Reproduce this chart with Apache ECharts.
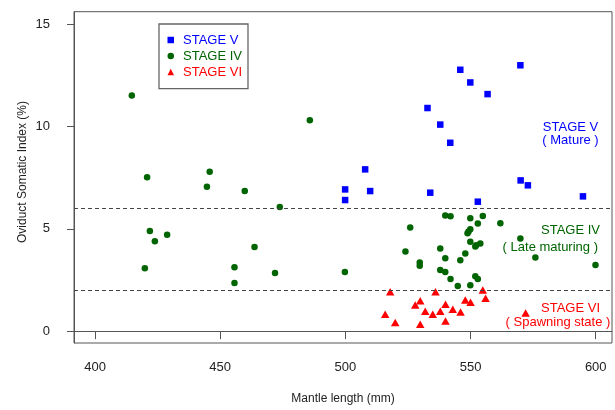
<!DOCTYPE html>
<html>
<head>
<meta charset="utf-8">
<script src="https://cdn.jsdelivr.net/npm/echarts@6/dist/echarts.min.js"></script>
<style>
html,body{margin:0;padding:0;background:#fff;}
#chart{width:615px;height:410px;}
</style>
</head>
<body>
<div id="chart"></div>
<script>
// ---- Data (Mantle length mm, Oviduct Somatic Index %) ----
var stageV = [
  [545.9,12.78],[549.9,12.16],[556.8,11.59],[569.9,13.0],[532.8,10.91],
  [537.9,10.10],[541.9,9.21],[533.9,6.77],[552.9,6.33],[570.0,7.37],
  [572.9,7.13],[594.9,6.59],[507.9,7.91],[499.9,6.93],[509.9,6.85],[499.9,6.41]
];
var stageIV = [
  [414.7,11.52],[485.8,10.31],[420.8,7.52],[445.8,7.79],[444.7,7.06],[459.8,6.85],
  [473.8,6.07],[421.9,4.90],[423.9,4.40],[428.8,4.71],[463.7,4.12],[419.9,3.08],
  [455.7,3.13],[455.7,2.35],[471.9,2.84],[499.8,2.89],
  [539.9,5.66],[542.0,5.62],[549.9,5.52],[554.9,5.63],[552.9,5.26],[561.9,5.27],
  [525.9,5.07],[549.9,4.98],[549.2,4.87],[548.8,4.79],[549.9,4.37],[553.9,4.29],
  [552.2,4.20],[551.9,4.14],[569.9,4.53],[524.0,3.90],[537.9,4.04],[547.9,3.80],
  [539.9,3.56],[545.9,3.47],[575.9,3.60],[529.7,3.36],[529.7,3.20],[599.9,3.24],
  [537.9,2.99],[539.9,2.89],[542.0,2.55],[551.9,2.68],[552.9,2.55],[544.9,2.21],
  [549.9,2.24]
];
var stageVI = [
  [517.9,1.93],[536.0,1.93],[554.9,2.01],[556.0,1.61],[529.9,1.48],[527.9,1.28],
  [547.9,1.52],[550.0,1.41],[540.0,1.31],[531.9,0.97],[537.9,0.97],[542.9,1.07],
  [534.9,0.83],[546.0,0.93],[515.9,0.83],[572.0,0.89],[519.9,0.42],[529.9,0.34],
  [540.0,0.49]
];
var thresholds = [6, 2];
var xTicks = [400, 450, 500, 550, 600];
var yTicks = [0, 5, 10, 15];
var seriesNames = ['STAGE V', 'STAGE IV', 'STAGE VI'];
var seriesColors = ['#0000FF', '#006400', '#FF0000'];

var FONT = '"Liberation Sans", Arial, Helvetica, sans-serif';
var chart = echarts.init(document.getElementById('chart'), null, {renderer: 'canvas'});

function annot(text, x, y, color) {
  return {
    type: 'text', x: x, y: y, silent: true,
    style: {text: text, fill: color, font: '13px ' + FONT, textAlign: 'center', textVerticalAlign: 'middle'}
  };
}

var option = {
  animation: false,
  backgroundColor: '#fff',
  textStyle: {fontFamily: FONT},
  grid: {left: 74, right: 3, top: 11.7, bottom: 65.7, show: true, borderColor: '#555', borderWidth: 1, containLabel: false},
  legend: {
    orient: 'vertical', left: 159, top: 24,
    padding: [9, 6, 9.6, 8.5],
    itemWidth: 6.5, itemHeight: 6.5, itemGap: 2,
    borderColor: '#666', borderWidth: 1.3,
    textStyle: {fontSize: 13, lineHeight: 14, fontFamily: FONT, padding: [0, 0, 0, 4]},
    data: seriesNames.map(function (n, i) { return {name: n, textStyle: {color: seriesColors[i]}}; })
  },
  xAxis: {
    type: 'value', min: 391.6, max: 606.5,
    name: 'Mantle length (mm)', nameLocation: 'middle', nameGap: 50,
    nameTextStyle: {fontSize: 12, color: '#222', fontFamily: FONT},
    splitLine: {show: false},
    axisLine: {show: true, lineStyle: {color: '#555', width: 1}},
    axisTick: {show: true, length: 8, lineStyle: {color: '#555'}, customValues: xTicks},
    axisLabel: {fontSize: 13, color: '#222', margin: 18, customValues: xTicks, fontFamily: FONT}
  },
  yAxis: {
    type: 'value', min: -0.58, max: 15.62,
    splitLine: {show: false},
    axisLine: {show: true, lineStyle: {color: '#555', width: 1}},
    axisTick: {show: true, length: 7, lineStyle: {color: '#555'}, customValues: yTicks},
    axisLabel: {fontSize: 13, color: '#222', margin: 24, customValues: yTicks, fontFamily: FONT}
  },
  series: [
    {
      name: seriesNames[0], type: 'scatter', data: stageV, symbol: 'rect', symbolSize: 6.5,
      itemStyle: {color: seriesColors[0], opacity: 1},
      markLine: {
        silent: true, symbol: ['none', 'none'], label: {show: false},
        lineStyle: {type: [4, 3], color: '#444', width: 1, opacity: 1},
        data: thresholds.map(function (t) { return {yAxis: t}; })
      }
    },
    {
      name: seriesNames[1], type: 'scatter', data: stageIV, symbol: 'circle', symbolSize: 6.5,
      itemStyle: {color: seriesColors[1], opacity: 1}
    },
    {
      name: seriesNames[2], type: 'scatter', data: stageVI, symbol: 'triangle', symbolSize: [8.5, 7.5],
      itemStyle: {color: seriesColors[2], opacity: 1}
    }
  ],
  graphic: [
    {
      type: 'text', x: 23, y: 172, rotation: Math.PI / 2, silent: true,
      style: {text: 'Oviduct Somatic Index (%)', fill: '#222', font: '12px ' + FONT, textAlign: 'center', textVerticalAlign: 'middle'}
    },
    annot('STAGE V', 570.5, 127.3, seriesColors[0]),
    annot('( Mature )', 570.5, 140.7, seriesColors[0]),
    annot('STAGE IV', 570.5, 230.7, seriesColors[1]),
    annot('( Late maturing )', 550.3, 247.6, seriesColors[1]),
    annot('STAGE VI', 570.5, 308.3, seriesColors[2]),
    annot('( Spawning state )', 558, 322.6, seriesColors[2])
  ]
};
chart.setOption(option);
</script>
</body>
</html>
